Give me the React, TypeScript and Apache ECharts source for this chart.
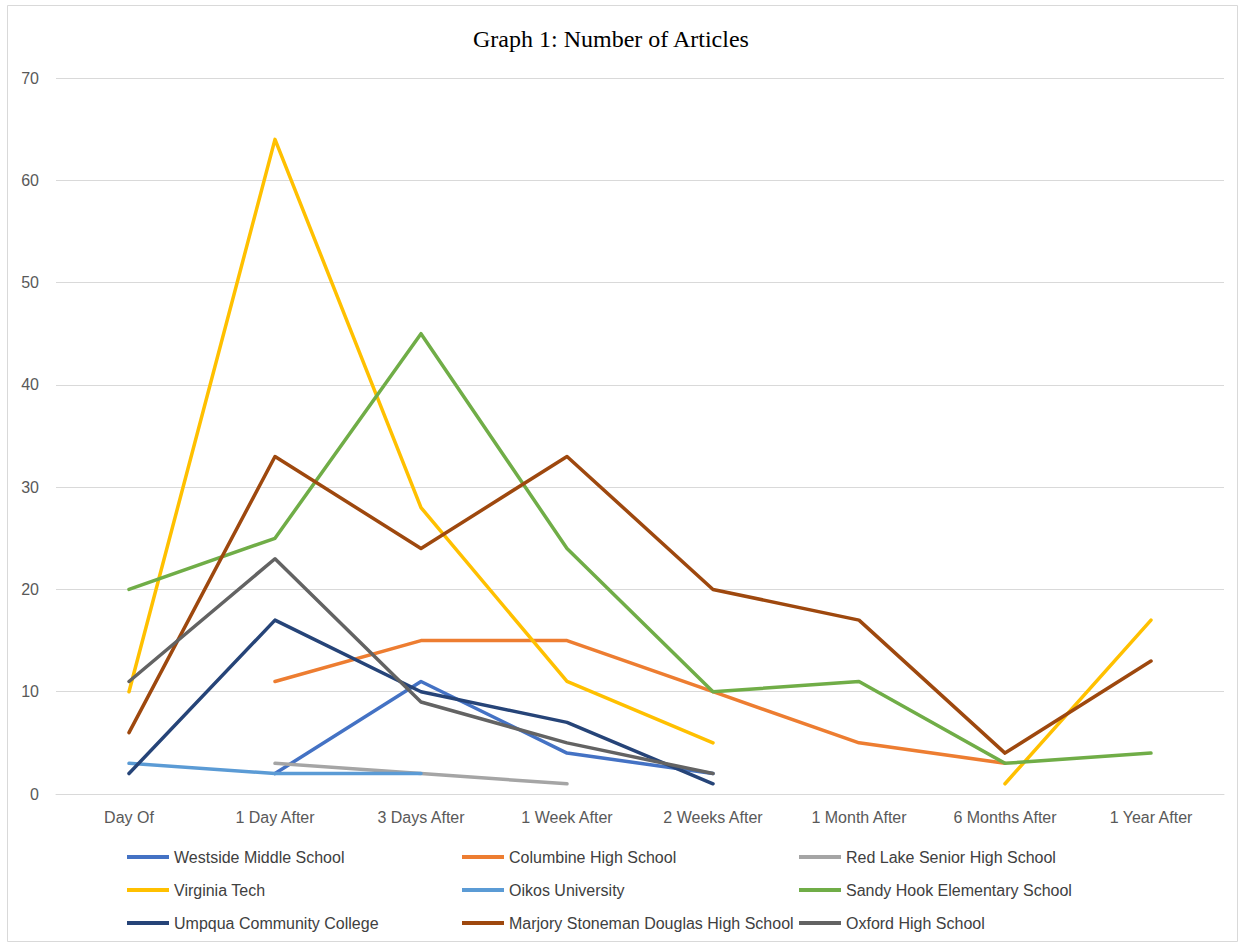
import React, { useEffect, useRef } from "react";
import * as echarts from "echarts";

const categories = ["Day Of", "1 Day After", "3 Days After", "1 Week After", "2 Weeks After", "1 Month After", "6 Months After", "1 Year After"];

const westside = [null, 2, 11, 4, 2, null, null, null];
const columbine = [null, 11, 15, 15, 10, 5, 3, null];
const redLake = [null, 3, 2, 1, null, null, null, null];
const virginiaTech = [10, 64, 28, 11, 5, null, 1, 17];
const oikos = [3, 2, 2, null, null, null, null, null];
const sandyHook = [20, 25, 45, 24, 10, 11, 3, 4];
const umpqua = [2, 17, 10, 7, 1, null, null, null];
const msd = [6, 33, 24, 33, 20, 17, 4, 13];
const oxford = [11, 23, 9, 5, 2, null, null, null];

const seriesNames = [
  "Westside Middle School",
  "Columbine High School",
  "Red Lake Senior High School",
  "Virginia Tech",
  "Oikos University",
  "Sandy Hook Elementary School",
  "Umpqua Community College",
  "Marjory Stoneman Douglas High School",
  "Oxford High School",
];
const seriesData = [westside, columbine, redLake, virginiaTech, oikos, sandyHook, umpqua, msd, oxford];
const colors = ["#4472C4", "#ED7D31", "#A5A5A5", "#FFC000", "#5B9BD5", "#70AD47", "#264478", "#9E480E", "#636363"];

const yTicks = { min: 0, max: 70, interval: 10 };

const sansFont = "'Liberation Sans', Arial, sans-serif";

export default function App() {
  const ref = useRef<HTMLDivElement>(null);
  useEffect(() => {
    if (!ref.current) return;
    const chart = echarts.init(ref.current, null, { renderer: "svg" });
    const legendCol = (idx: number[], left: number) => ({
      orient: "vertical",
      left,
      top: 849,
      padding: 0,
      itemGap: 17,
      itemWidth: 42,
      itemHeight: 4,
      icon: "rect",
      data: idx.map((i) => seriesNames[i]),
      textStyle: { fontSize: 16, color: "#404040", fontFamily: sansFont, lineHeight: 16 },
      selectedMode: false,
    });
    chart.setOption({
      animation: false,
      backgroundColor: "#ffffff",
      color: colors,
      title: {
        text: "Graph 1: Number of Articles",
        left: 468,
        top: 22,
        textStyle: { fontFamily: "'Liberation Serif', 'Times New Roman', serif", fontSize: 24, fontWeight: "normal", color: "#000000" },
      },
      graphic: [
        {
          type: "rect",
          shape: { x: 7.5, y: 5.5, width: 1230, height: 936 },
          style: { fill: "none", stroke: "#D9D9D9", lineWidth: 1 },
          silent: true,
        },
      ],
      legend: [legendCol([0, 3, 6], 127), legendCol([1, 4, 7], 462), legendCol([2, 5, 8], 799)],
      grid: { left: 56, right: 17, top: 78, bottom: 152, containLabel: false },
      xAxis: {
        type: "category",
        data: categories,
        boundaryGap: true,
        axisLine: { show: true, lineStyle: { color: "#D9D9D9", width: 1 } },
        axisTick: { show: false },
        axisLabel: { color: "#595959", fontSize: 16, margin: 15, fontFamily: sansFont, interval: 0 },
      },
      yAxis: {
        type: "value",
        min: yTicks.min,
        max: yTicks.max,
        interval: yTicks.interval,
        axisLine: { show: false },
        axisTick: { show: false },
        splitLine: { lineStyle: { color: "#D9D9D9", width: 1 } },
        axisLabel: { color: "#595959", fontSize: 16, margin: 17, fontFamily: sansFont },
      },
      series: seriesNames.map((name, i) => ({
        name,
        type: "line",
        data: seriesData[i],
        symbol: "none",
        connectNulls: false,
        lineStyle: { width: 3.5, color: colors[i], cap: "round", join: "round" },
        itemStyle: { color: colors[i] },
      })),
    });
    return () => chart.dispose();
  }, []);
  return <div ref={ref} style={{ position: "fixed", left: 0, top: 0, width: 1241, height: 946 }} />;
}
